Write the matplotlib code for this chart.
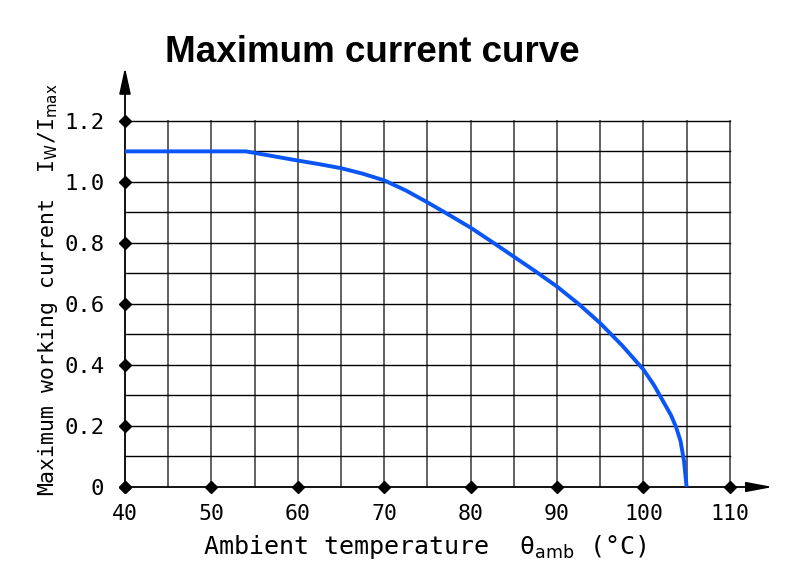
import matplotlib
matplotlib.use("Agg")
import matplotlib.pyplot as plt
import numpy as np

# Data
temps = [40, 54, 57, 60, 62.5, 65, 67.5, 70, 72.5, 75, 77.5, 80, 82.5, 85, 87.5, 90,
         92.5, 95, 97.5, 100, 101.2, 102.3, 103.2, 103.8, 104.3, 104.7, 105]
ratio = [1.10, 1.10, 1.085, 1.07, 1.058, 1.045, 1.027, 1.005, 0.972, 0.933, 0.892, 0.85,
         0.803, 0.755, 0.707, 0.657, 0.60, 0.537, 0.465, 0.385, 0.335, 0.28, 0.235, 0.195,
         0.15, 0.085, 0.0]
x_ticks = [40, 50, 60, 70, 80, 90, 100, 110]
y_ticks = [0, 0.2, 0.4, 0.6, 0.8, 1.0, 1.2]
y_tick_labels = ["0", "0.2", "0.4", "0.6", "0.8", "1.0", "1.2"]
x_grid = list(range(40, 111, 5))
y_grid = [i / 10 for i in range(0, 13)]

plt.rcParams['mathtext.fontset'] = 'custom'
plt.rcParams['mathtext.rm'] = 'DejaVu Sans'
plt.rcParams['mathtext.it'] = 'DejaVu Sans'

fig = plt.figure(figsize=(7.96, 5.70), dpi=100)
ax = fig.add_axes([125/796, 83/570, 648/796, 418/570])
ax.set_xlim(40, 115)
ax.set_ylim(0, 1.37)
for s in ax.spines.values():
    s.set_visible(False)

# grid
for xv in x_grid[1:]:
    ax.plot([xv, xv], [0, 1.2], color='#555555', lw=1.3, zorder=1)
for yv in y_grid[1:]:
    ax.plot([40, 110], [yv, yv], color='black', lw=1.0, zorder=1)

# axes with arrows
ax.plot([40, 40], [0, 1.2], color='black', lw=1.3, zorder=2, clip_on=False)
ax.plot([40, 110], [0, 0], color='black', lw=1.3, zorder=2, clip_on=False)
ax.annotate('', xy=(40, 1.375), xytext=(40, 1.2),
            arrowprops=dict(arrowstyle='-|>,head_length=1.6,head_width=0.35', color='black', lw=1.3, shrinkA=0, shrinkB=0),
            annotation_clip=False)
ax.annotate('', xy=(115, 0), xytext=(110, 0),
            arrowprops=dict(arrowstyle='-|>,head_length=1.6,head_width=0.3', color='black', lw=1.3, shrinkA=0, shrinkB=0),
            annotation_clip=False)

# diamond markers
ax.plot(x_ticks, [0]*len(x_ticks), 'D', color='black', ms=6, zorder=4, clip_on=False)
ax.plot([40]*len(y_ticks), y_ticks, 'D', color='black', ms=6, zorder=4, clip_on=False)

# curve
ax.plot(temps, ratio, color='#0A55F5', lw=2.8, zorder=3, solid_capstyle='butt', solid_joinstyle='round')

ax.set_xticks(x_ticks)
ax.set_xticklabels([str(v) for v in x_ticks], family='DejaVu Sans Mono', fontsize=15.5)
ax.set_yticks(y_ticks)
ax.set_yticklabels(y_tick_labels, family='DejaVu Sans Mono', fontsize=16)
ax.tick_params(axis='both', length=0)
ax.tick_params(axis='x', pad=12)
ax.tick_params(axis='y', pad=15)

ax.set_xlabel('Ambient temperature  θ$_{\\mathrm{amb}}$ (°C)', family='DejaVu Sans Mono', fontsize=18)
ax.xaxis.set_label_coords((425 - 125) / 648, -0.11)
ax.set_ylabel('Maximum working current  I$_{\\mathrm{W}}$/I$_{\\mathrm{max}}$', family='DejaVu Sans Mono', fontsize=15.5)
ax.yaxis.set_label_coords(-0.1, (487 - 290) / 418)

fig.text(372/796, 1 - 52/570, 'Maximum current curve', family='Liberation Sans', weight='bold',
         fontsize=26.5, ha='center', va='center')

fig.savefig('out.png', dpi=100)
